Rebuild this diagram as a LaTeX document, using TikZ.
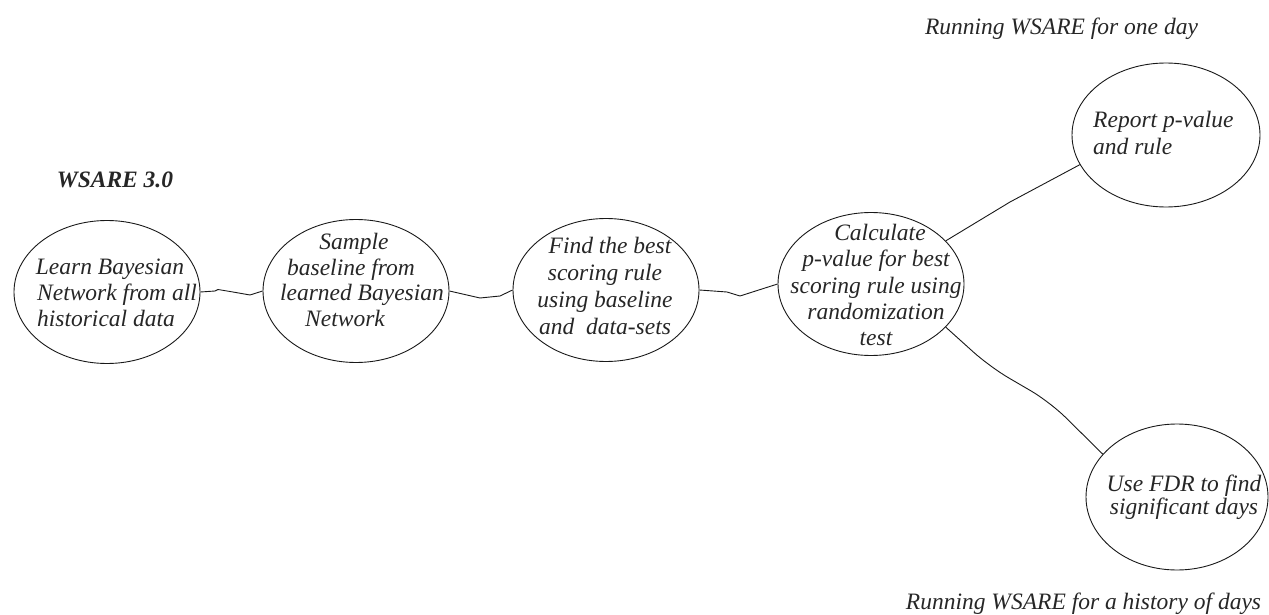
\documentclass[tikz,border=0pt]{standalone}
\usepackage{fontspec}
\setmainfont{Liberation Serif}
\usetikzlibrary{shapes.geometric}
\begin{document}
\begin{tikzpicture}[x=1pt,y=-1pt,
  ell/.style={ellipse, draw=black!90, line width=0.9pt, inner sep=0pt,
              minimum width=186pt, minimum height=143pt},
  lbl/.style={font=\fontsize{23.5}{26}\selectfont\itshape, text=black!85,
              align=center, inner sep=0pt},
  captxt/.style={font=\fontsize{23.5}{26}\selectfont\itshape, text=black!85,
              inner sep=0pt, anchor=base},
  link/.style={draw=black!90, line width=0.9pt, line join=round}]
\useasboundingbox (0,0) rectangle (1269,615);

% ellipses
\node[ell] (e1) at (107,292) {};
\node[ell] (e2) at (356,291) {};
\node[ell] (e3) at (606,290) {};
\node[ell] (e4) at (871,284) {};
\node[ell, minimum width=188pt, minimum height=144pt] (e5) at (1166,135) {};
\node[ell, minimum width=182pt, minimum height=146pt] (e6) at (1177,497) {};

% texts inside ellipses
\node[lbl] (t1) at (110,293) {Learn Bayesian\\\hspace*{14pt}Network from all\\historical data\hspace*{8pt}};
\node[lbl, font=\fontsize{23.5}{25.7}\selectfont\itshape] (t2) at (351,280)
  {\hspace*{6pt}Sample\\baseline from\hspace*{18pt}\\\hspace*{22pt}learned Bayesian\\Network\hspace*{12pt}};
\node[lbl, font=\fontsize{23.5}{27}\selectfont\itshape] (t3) at (605,286)
  {\hspace*{10pt}Find the best\\scoring rule\hspace*{12pt}\\using baseline\\and\ \ data-sets};
\node[lbl, font=\fontsize{23.5}{26.2}\selectfont\itshape] (t4) at (876,285)
  {\hspace*{8pt}Calculate\\p-value for best\\scoring rule using\\randomization\hspace*{38pt}\\test};
\node[lbl, align=left, anchor=west, font=\fontsize{23.5}{27}\selectfont\itshape] (t5) at (1093,133)
  {Report p-value\\and rule};
\node[lbl, font=\fontsize{23.5}{23}\selectfont\itshape] (t6) at (1184,497)
  {Use FDR to find\\significant days};

% captions
\node[captxt, font=\fontsize{23.5}{26}\selectfont\bfseries\itshape] (title) at (115,187) {WSARE 3.0};
\node[captxt] (oneday) at (1061.5,35) {Running WSARE for one day};
\node[captxt] (history) at (1083.5,609) {Running WSARE for a history of days};

% connectors
\draw[link] (e1.east) -- (215,291) -- (218,289.5) -- (233,292) -- (250,295) -- (e2.west);
\draw[link] (e2.east) -- (480,298) -- (500,296) -- (e3.west);
\draw[link] (e3.east) -- (727,292) -- (740,296) -- (e4.west);
\draw[link] (e4.30) -- (1010,202) -- (e5.199);
\draw[link, rounded corners=22pt] (e4.-30) -- (990,367) -- (1050,402) -- (e6.150);
\end{tikzpicture}
\end{document}
